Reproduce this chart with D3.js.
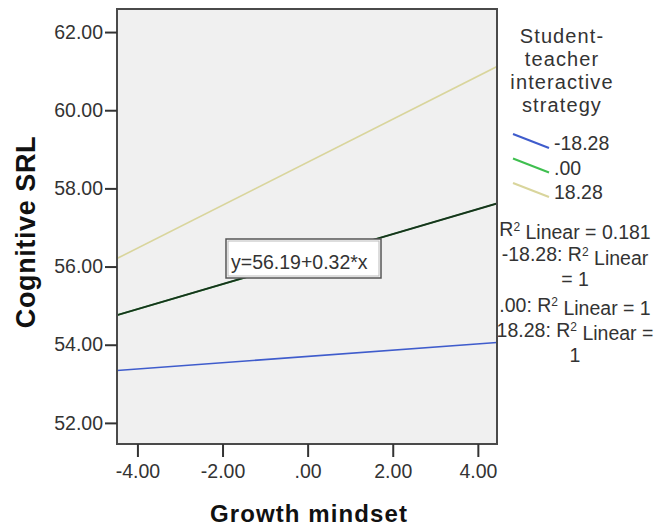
<!DOCTYPE html>
<html>
<head>
<meta charset="utf-8">
<script src="https://cdn.jsdelivr.net/npm/d3@7/dist/d3.min.js"></script>
<style>
  html, body { margin: 0; padding: 0; background: #fff; }
  svg { display: block; font-family: Arial, "Liberation Sans", sans-serif; }
</style>
</head>
<body>
<svg id="chart" width="656" height="529"></svg>
<script>
// Tick values for both axes
const xTicks = [-4, -2, 0, 2, 4];
const yTicks = [52, 54, 56, 58, 60, 62];

// Moderator levels and their simple-slope fits (intercept + slope * x)
const groups = ["-18.28", ".00", "18.28"];
const intercepts = [53.70, 56.19, 58.67];
const slopes = [0.08, 0.32, 0.55];

// Overall linear fit
const fitIntercept = 56.19;
const fitSlope = 0.32;
const fitLabel = "y=56.19+0.32*x";

// Fit-quality notes (the "^2" marks a superscript)
const r2Lines = [
  "R^2 Linear = 0.181",
  "-18.28: R^2 Linear",
  "= 1",
  ".00: R^2 Linear = 1",
  "18.28: R^2 Linear =",
  "1"
];

const legendTitle = ["Student-", "teacher", "interactive", "strategy"];
const xTitle = "Growth mindset";
const yTitle = "Cognitive SRL";

// ---- styling / layout ----
const colors = ["#3f5ccc", "#3fbf4f", "#d9d59c"];
const plot = { left: 117, right: 497, top: 9, bottom: 444 };
const textColor = "#333";

const svg = d3.select("#chart");

const x = d3.scaleLinear().domain([-4.48, 4.45]).range([plot.left, plot.right]);
const y = d3.scaleLinear().domain([51.46, 62.59]).range([plot.bottom, plot.top]);

// SPSS-style numbers: plain hyphen for minus, no leading zero
const fmt = v => d3.format(".2f")(v).replace("\u2212", "-").replace(/^(-?)0\./, "$1.");

// R² notes sit to the right; the plot panel is drawn over their left overhang
const r2 = svg.append("g").attr("fill", textColor).attr("font-size", 19.5).attr("text-anchor", "middle");
r2Lines.forEach((line, i) => {
  const t = r2.append("text").attr("x", 575).attr("y", 236 + i * 25.2);
  const parts = line.split("^2");
  parts.forEach((p, j) => {
    if (j > 0) t.append("tspan").attr("dy", "-0.45em").attr("font-size", 12).text("2");
    t.append("tspan").attr("dy", j > 0 ? "0.45em" : null).text(p);
  });
});

// Plot panel
svg.append("rect")
  .attr("x", plot.left).attr("y", plot.top)
  .attr("width", plot.right - plot.left).attr("height", plot.bottom - plot.top)
  .attr("fill", "#f0f0f0");

svg.append("clipPath").attr("id", "plotClip")
  .append("rect")
  .attr("x", plot.left).attr("y", plot.top)
  .attr("width", plot.right - plot.left).attr("height", plot.bottom - plot.top);

const lines = svg.append("g").attr("clip-path", "url(#plotClip)");
const [x0, x1] = x.domain();

const fitLine = (a, b) => d3.line().x(d => x(d)).y(d => y(a + b * d))([x0, x1]);

groups.forEach((g, i) => {
  lines.append("path")
    .attr("d", fitLine(intercepts[i], slopes[i]))
    .attr("fill", "none")
    .attr("stroke", colors[i])
    .attr("stroke-width", 1.6);
});

// Overall fit line drawn over the middle group
lines.append("path")
  .attr("d", fitLine(fitIntercept, fitSlope))
  .attr("fill", "none")
  .attr("stroke", "#17331c")
  .attr("stroke-width", 1.8);

// Equation label box
const box = svg.append("g").attr("transform", "translate(226,239)");
box.append("rect").attr("width", 155).attr("height", 39)
  .attr("fill", "#fff").attr("stroke", "#555").attr("stroke-width", 1.5);
box.append("rect").attr("x", 2).attr("y", 2).attr("width", 151).attr("height", 35)
  .attr("fill", "none").attr("stroke", "#bbb").attr("stroke-width", 1);
box.append("text").attr("x", 5).attr("y", 30)
  .attr("font-size", 19.5).attr("fill", textColor).text(fitLabel);

// Panel frame
svg.append("rect")
  .attr("x", plot.left).attr("y", plot.top)
  .attr("width", plot.right - plot.left).attr("height", plot.bottom - plot.top)
  .attr("fill", "none").attr("stroke", "#4a4a4a").attr("stroke-width", 2);

// Axes
const styleAxis = g => {
  g.select(".domain").remove();
  g.selectAll(".tick line").attr("stroke", "#333").attr("stroke-width", 2);
  g.selectAll(".tick text").attr("fill", textColor).attr("font-size", 19.5)
    .attr("font-family", "Arial, 'Liberation Sans', sans-serif");
};

svg.append("g")
  .attr("transform", `translate(${plot.left},0)`)
  .call(d3.axisLeft(y).tickValues(yTicks).tickFormat(fmt).tickSize(12).tickPadding(2))
  .call(styleAxis);

svg.append("g")
  .attr("transform", `translate(0,${plot.bottom})`)
  .call(d3.axisBottom(x).tickValues(xTicks).tickFormat(fmt).tickSize(13).tickPadding(7))
  .call(styleAxis);

// Axis titles
svg.append("text")
  .attr("x", 309).attr("y", 522)
  .attr("text-anchor", "middle").attr("font-weight", "bold")
  .attr("font-size", 24).attr("letter-spacing", 1.1).attr("fill", "#111")
  .text(xTitle);

svg.append("text")
  .attr("transform", "translate(35,232) rotate(-90)")
  .attr("text-anchor", "middle").attr("font-weight", "bold")
  .attr("font-size", 27).attr("letter-spacing", 0.6).attr("fill", "#111")
  .text(yTitle);

// Legend
const legend = svg.append("g").attr("fill", textColor);
legendTitle.forEach((t, i) => {
  legend.append("text").attr("x", 562).attr("y", 43 + i * 23)
    .attr("text-anchor", "middle").attr("font-size", 20).attr("letter-spacing", 1.1).text(t);
});
groups.forEach((g, i) => {
  const by = 150 + i * 24.5;
  legend.append("line")
    .attr("x1", 513).attr("y1", by - 16).attr("x2", 549).attr("y2", by - 2)
    .attr("stroke", colors[i]).attr("stroke-width", 2);
  legend.append("text").attr("x", 554).attr("y", by)
    .attr("font-size", 19.5).text(g);
});
</script>
</body>
</html>
